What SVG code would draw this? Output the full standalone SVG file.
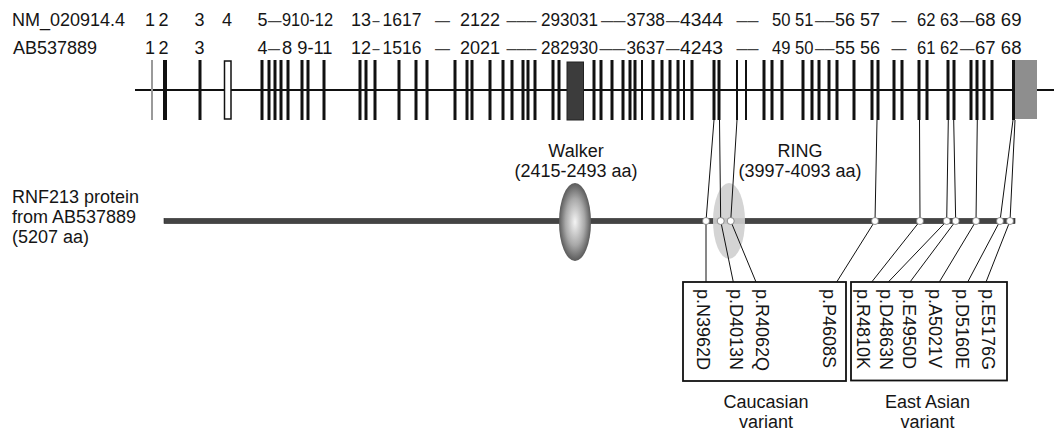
<svg xmlns="http://www.w3.org/2000/svg" width="1054" height="433" viewBox="0 0 1054 433">
<style>
text{font-family:"Liberation Sans",Arial,sans-serif;font-size:18px;fill:#151515}
text.d{fill:#444}
.ex{stroke:#111;stroke-width:3}
.exn{stroke:#111;stroke-width:2}
.cn{stroke:#111;stroke-width:1;fill:none}
.box{fill:none;stroke:#111;stroke-width:1.8}
.dot{fill:#fff;stroke:#777;stroke-width:0.8}
</style>
<defs>
<radialGradient id="gW" cx="0.5" cy="0.5" r="0.5">
<stop offset="0" stop-color="#f4f4f4"/>
<stop offset="0.6" stop-color="#a8a8a8"/>
<stop offset="1" stop-color="#5a5a5a"/>
</radialGradient>
</defs>
<rect width="1054" height="433" fill="#fff"/>

<g id="labels-exon-rows">
<text x="12" y="26">NM_020914.4</text>
<text x="13" y="54">AB537889</text>
</g>

<g id="row-NM">
<text x="145" y="26">1</text><text x="158.5" y="26">2</text>
<text x="194.5" y="26">3</text><text x="222" y="26">4</text>
<text x="257.5" y="26">5</text><text class="d" x="268" y="26" textLength="13.5" lengthAdjust="spacingAndGlyphs">–</text>
<text x="282" y="26" textLength="51" lengthAdjust="spacingAndGlyphs">910-12</text>
<text x="351" y="26">13</text><text class="d" x="372.5" y="26" textLength="7" lengthAdjust="spacingAndGlyphs">–</text>
<text x="382.5" y="26" textLength="39" lengthAdjust="spacingAndGlyphs">1617</text>
<text class="d" x="435" y="26" textLength="15" lengthAdjust="spacingAndGlyphs">–</text>
<text x="460" y="26">2122</text>
<text class="d" x="506.5" y="26" textLength="30" lengthAdjust="spacingAndGlyphs">–––</text>
<text x="541" y="26" textLength="57" lengthAdjust="spacingAndGlyphs">293031</text>
<text class="d" x="601" y="26" textLength="24.5" lengthAdjust="spacingAndGlyphs">––</text>
<text x="626.5" y="26" textLength="38.5" lengthAdjust="spacingAndGlyphs">3738</text>
<text class="d" x="666" y="26" textLength="13.5" lengthAdjust="spacingAndGlyphs">–</text>
<text x="680" y="26" textLength="43" lengthAdjust="spacingAndGlyphs">4344</text>
<text class="d" x="736.5" y="26" textLength="22" lengthAdjust="spacingAndGlyphs">––</text>
<text x="772" y="26" textLength="41.5" lengthAdjust="spacingAndGlyphs">50 51</text>
<text class="d" x="815" y="26" textLength="19.5" lengthAdjust="spacingAndGlyphs">––</text>
<text x="835" y="26" textLength="45" lengthAdjust="spacingAndGlyphs">56 57</text>
<text class="d" x="891.5" y="26" textLength="15" lengthAdjust="spacingAndGlyphs">–</text>
<text x="917" y="26" textLength="41.5" lengthAdjust="spacingAndGlyphs">62 63</text>
<text class="d" x="960" y="26" textLength="14.5" lengthAdjust="spacingAndGlyphs">–</text>
<text x="975" y="26" textLength="46.5" lengthAdjust="spacingAndGlyphs">68 69</text>
</g>

<g id="row-AB">
<text x="145" y="54">1</text><text x="158.5" y="54">2</text>
<text x="194.5" y="54">3</text>
<text x="257.5" y="54">4</text><text class="d" x="268" y="54" textLength="12" lengthAdjust="spacingAndGlyphs">–</text>
<text x="282" y="54" textLength="50.5" lengthAdjust="spacingAndGlyphs">8 9-11</text>
<text x="351" y="54">12</text><text class="d" x="372.5" y="54" textLength="7" lengthAdjust="spacingAndGlyphs">–</text>
<text x="382.5" y="54" textLength="39" lengthAdjust="spacingAndGlyphs">1516</text>
<text class="d" x="435" y="54" textLength="15" lengthAdjust="spacingAndGlyphs">–</text>
<text x="460" y="54">2021</text>
<text class="d" x="506.5" y="54" textLength="30" lengthAdjust="spacingAndGlyphs">–––</text>
<text x="541" y="54" textLength="57" lengthAdjust="spacingAndGlyphs">282930</text>
<text class="d" x="599.5" y="54" textLength="26" lengthAdjust="spacingAndGlyphs">––</text>
<text x="626.5" y="54" textLength="38.5" lengthAdjust="spacingAndGlyphs">3637</text>
<text class="d" x="666" y="54" textLength="13.5" lengthAdjust="spacingAndGlyphs">–</text>
<text x="680" y="54" textLength="43" lengthAdjust="spacingAndGlyphs">4243</text>
<text class="d" x="736.5" y="54" textLength="22" lengthAdjust="spacingAndGlyphs">––</text>
<text x="772" y="54" textLength="41.5" lengthAdjust="spacingAndGlyphs">49 50</text>
<text class="d" x="815" y="54" textLength="19.5" lengthAdjust="spacingAndGlyphs">––</text>
<text x="835" y="54" textLength="45" lengthAdjust="spacingAndGlyphs">55 56</text>
<text class="d" x="891.5" y="54" textLength="15" lengthAdjust="spacingAndGlyphs">–</text>
<text x="917" y="54" textLength="41.5" lengthAdjust="spacingAndGlyphs">61 62</text>
<text class="d" x="960" y="54" textLength="14.5" lengthAdjust="spacingAndGlyphs">–</text>
<text x="975" y="54" textLength="46.5" lengthAdjust="spacingAndGlyphs">67 68</text>
</g>

<g id="exon-track">
<line x1="135" y1="90" x2="1054" y2="90" stroke="#111" stroke-width="2"/>
<line x1="152" y1="60" x2="152" y2="120" stroke="#9a9a9a" stroke-width="2"/>
<line x1="165" y1="60" x2="165" y2="120" stroke="#111" stroke-width="4"/>
<path class="ex" d="M200 60V120M262 60V120M269 60V120M275 60V120M281 60V120M288 60V120M302 60V120M308 60V120M324 60V120M360 60V120M366 60V120M375 60V120M399 60V120M416 60V120M427 60V120M455 60V120M467 60V120M472 60V120M490 60V120M503 60V120M512 60V120M523 60V120M528 60V120M535 60V120M553 60V120M559 60V120M594 60V120M601 60V120M612 60V120M623 60V120M630 60V120M635 60V120M653 60V120M662 60V120M670 60V120M678 60V120M692 60V120M714 60V120M719 60V120M764 60V120M772 60V120M782 60V120M803 60V120M812 60V120M819 60V120M829 60V120M837 60V120M854 60V120M872 60V120M878 60V120M894 60V120M902 60V120M919 60V120M927 60V120M948 60V120M954 60V120M971 60V120M977 60V120M984 60V120M992 60V120"/>
<path class="exn" d="M642 60V120M684 60V120M737 60V120M746 60V120"/>
<rect x="224.5" y="61" width="6.5" height="58" fill="#fff" stroke="#111" stroke-width="1.5"/>
<rect x="567" y="62" width="16.5" height="58" fill="#3c3c3c" stroke="#222" stroke-width="1"/>
<rect x="1013" y="60" width="24" height="59" fill="#8e8e8e"/>
<line x1="1013.5" y1="60" x2="1013.5" y2="120" stroke="#111" stroke-width="3"/>
</g>

<g id="protein">
<text x="12" y="203">RNF213 protein</text>
<text x="12" y="223">from AB537889</text>
<text x="12" y="243">(5207 aa)</text>
<rect x="164" y="218.5" width="851" height="5" fill="#444" stroke="#222" stroke-width="0.6"/>
</g>

<g id="walker">
<ellipse cx="575" cy="222" rx="16" ry="39" fill="url(#gW)"/>
<text x="576" y="157" text-anchor="middle">Walker</text>
<text x="576" y="177" text-anchor="middle">(2415-2493 aa)</text>
</g>

<g id="ring">
<ellipse cx="729" cy="221" rx="16" ry="38" fill="#cfcfcf" fill-opacity="0.9"/>
<text x="800" y="157" text-anchor="middle">RING</text>
<text x="800" y="177" text-anchor="middle">(3997-4093 aa)</text>
</g>

<g id="connectors">
<path class="cn" d="M714 120L706 221M719.5 120L720.7 221M737 120L730.7 221M877 120L875 221M919.5 120L920 221M948.3 120L946.7 221M953.7 120L955.7 221M977.3 120L976 221M1013 120L1000 221M1015 120L1010 221"/>
<path class="cn" d="M706 221L706 282M720.7 221L733.3 282M730.7 221L756 282M875 221L836.7 282M920 221L871.7 282M946.7 221L888.3 282M955.7 221L910 282M976 221L939.3 282M1000 221L967.7 282M1010 221L986 282"/>
</g>

<g id="dots">
<circle class="dot" cx="706" cy="221" r="3.5"/>
<circle class="dot" cx="720.7" cy="221" r="3.5"/>
<circle class="dot" cx="730.7" cy="221" r="3.5"/>
<circle class="dot" cx="875" cy="221" r="3.5"/>
<circle class="dot" cx="920" cy="221" r="3.5"/>
<circle class="dot" cx="946.7" cy="221" r="3.5"/>
<circle class="dot" cx="955.7" cy="221" r="3.5"/>
<circle class="dot" cx="976" cy="221" r="3.5"/>
<circle class="dot" cx="1000" cy="221" r="3.5"/>
<circle class="dot" cx="1010" cy="221" r="3.5"/>
</g>

<g id="caucasian">
<rect class="box" x="683" y="282" width="163" height="99"/>
<text transform="translate(697,289) rotate(90)">p.N3962D</text>
<text transform="translate(729.5,289) rotate(90)">p.D4013N</text>
<text transform="translate(756,289) rotate(90)">p.R4062Q</text>
<text transform="translate(822.7,289) rotate(90)">p.P4608S</text>
<text x="766" y="408" text-anchor="middle">Caucasian</text>
<text x="766" y="428" text-anchor="middle">variant</text>
</g>

<g id="east-asian">
<rect class="box" x="851" y="282" width="156" height="98.5"/>
<text transform="translate(856.7,289) rotate(90)">p.R4810K</text>
<text transform="translate(880,289) rotate(90)">p.D4863N</text>
<text transform="translate(903.3,289) rotate(90)">p.E4950D</text>
<text transform="translate(929.3,289) rotate(90)">p.A5021V</text>
<text transform="translate(956,289) rotate(90)">p.D5160E</text>
<text transform="translate(981.7,289) rotate(90)">p.E5176G</text>
<text x="927.5" y="408" text-anchor="middle">East Asian</text>
<text x="927.5" y="428" text-anchor="middle">variant</text>
</g>
</svg>
